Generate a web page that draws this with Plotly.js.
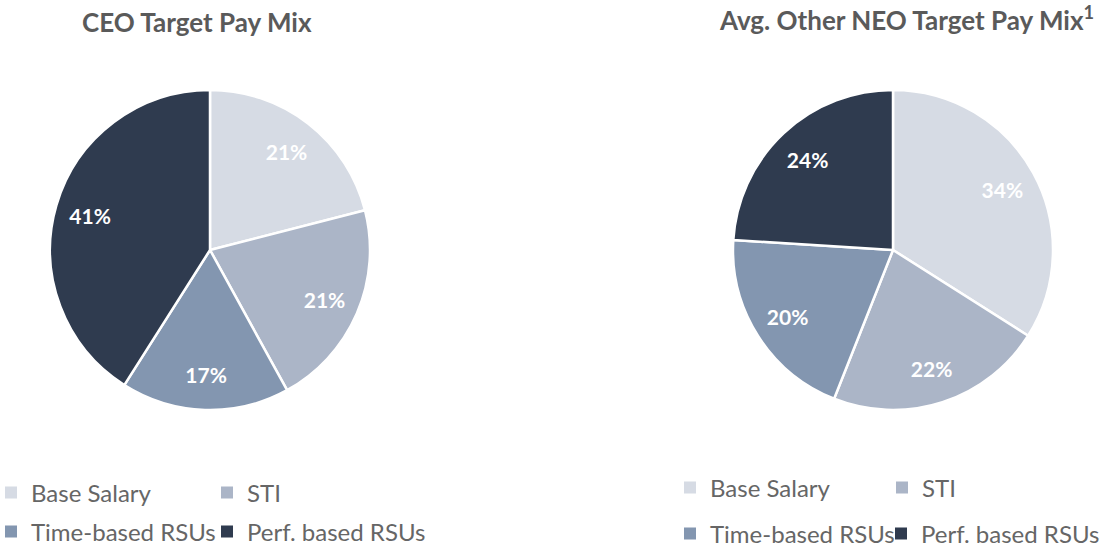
<!DOCTYPE html>
<html><head><meta charset="utf-8">
<script src="https://cdn.plot.ly/plotly-3.0.1.min.js"></script>
<style>html,body{margin:0;padding:0;background:#fff}#chart{width:1107px;height:548px}</style>
</head><body><div id="chart"></div>
<script>
const categories = ['Base Salary', 'STI', 'Time-based RSUs', 'Perf. based RSUs'];
const ceoValues = [21, 21, 17, 41];
const neoValues = [34, 22, 20, 24];
const sliceColors = ['#d6dbe4', '#abb5c7', '#8396b0', '#2f3b4f'];
const titles = ['CEO Target Pay Mix', 'Avg. Other NEO Target Pay Mix<sup>1</sup>'];

const FONT = 'Lato, "Open Sans", sans-serif';
const W = 1107, H = 548;
const domLeft = {x: [50/W, 370/W], y: [138/H, 458/H]};
const domRight = {x: [733/W, 1053/W], y: [138/H, 458/H]};
const clear4 = ['rgba(0,0,0,0)','rgba(0,0,0,0)','rgba(0,0,0,0)','rgba(0,0,0,0)'];

function basePie(values, dom, grp) {
  return {
    type: 'pie', labels: categories, values: values, domain: dom,
    sort: false, direction: 'clockwise', rotation: 0,
    marker: {colors: sliceColors, line: {color: '#ffffff', width: 2.5}},
    textinfo: 'none', hoverinfo: 'label+percent', showlegend: false, legendgroup: grp
  };
}
function labelRing(values, dom, grp) {
  return {
    type: 'pie', labels: categories, values: values, domain: dom, hole: 0.56,
    sort: false, direction: 'clockwise', rotation: 0,
    marker: {colors: clear4, line: {width: 0}},
    texttemplate: '%{value}%', textposition: 'inside', insidetextorientation: 'horizontal',
    insidetextfont: {family: FONT, size: 21, color: '#ffffff', weight: 'bold'},
    showlegend: false, hoverinfo: 'skip', legendgroup: grp
  };
}
// legend entries are carried by pies of the same slices, drawn underneath the main pie
function legendPart(values, dom, from, to, legendId, grp) {
  const cx = (dom.x[0] + dom.x[1]) / 2, cy = (dom.y[0] + dom.y[1]) / 2;
  return {
    type: 'pie', labels: categories.slice(from, to), values: values.slice(from, to),
    domain: {x: [cx - 0.0005, cx + 0.0005], y: [cy - 0.0005, cy + 0.0005]},
    sort: false, direction: 'clockwise',
    marker: {colors: sliceColors.slice(from, to), line: {width: 0}},
    textinfo: 'none', hoverinfo: 'skip', legend: legendId, legendgroup: grp, showlegend: true
  };
}

const data = [
  legendPart(ceoValues, domLeft, 0, 2, 'legend', 'g1'),
  legendPart(ceoValues, domLeft, 2, 3, 'legend3', 'g2'),
  legendPart(ceoValues, domLeft, 3, 4, 'legend5', 'g3'),
  legendPart(neoValues, domRight, 0, 2, 'legend2', 'g4'),
  legendPart(neoValues, domRight, 2, 3, 'legend4', 'g5'),
  legendPart(neoValues, domRight, 3, 4, 'legend6', 'g6'),
  basePie(ceoValues, domLeft, 'g7'),
  basePie(neoValues, domRight, 'g8'),
  labelRing(ceoValues, domLeft, 'g9'),
  labelRing(neoValues, domRight, 'g10')
];

const legendCommon = {
  orientation: 'h', entrywidthmode: 'pixels', itemclick: false, itemdoubleclick: false,
  font: {family: FONT, size: 24, color: '#666666'},
  bgcolor: 'rgba(0,0,0,0)', traceorder: 'normal', yanchor: 'middle', xanchor: 'left'
};

const layout = {
  width: W, height: H,
  margin: {l: 0, r: 0, t: 0, b: 0, autoexpand: false},
  paper_bgcolor: '#ffffff',
  showlegend: true,
  legend:  Object.assign({}, legendCommon, {x: -9/W, y: 1 - 493/H, entrywidth: 171}),
  legend3: Object.assign({}, legendCommon, {x: -9/W, y: 1 - 532/H}),
  legend5: Object.assign({}, legendCommon, {x: 207/W, y: 1 - 532/H}),
  legend2: Object.assign({}, legendCommon, {x: 670/W, y: 1 - 488/H, entrywidth: 167}),
  legend4: Object.assign({}, legendCommon, {x: 670/W, y: 1 - 534/H}),
  legend6: Object.assign({}, legendCommon, {x: 881/W, y: 1 - 534/H}),
  annotations: [
    {text: titles[0], xref: 'paper', yref: 'paper', x: 197/W, y: 1 - 22/H, xanchor: 'center', yanchor: 'middle', showarrow: false,
     font: {family: FONT, size: 26, color: '#5a5a5a', weight: 'bold'}},
    {text: titles[1], xref: 'paper', yref: 'paper', x: 906/W, y: 1 - 18/H, xanchor: 'center', yanchor: 'middle', showarrow: false,
     font: {family: FONT, size: 26, color: '#5a5a5a', weight: 'bold'}}
  ]
};

Plotly.newPlot('chart', data, layout, {displayModeBar: false, staticPlot: true});
</script>
</body></html>
